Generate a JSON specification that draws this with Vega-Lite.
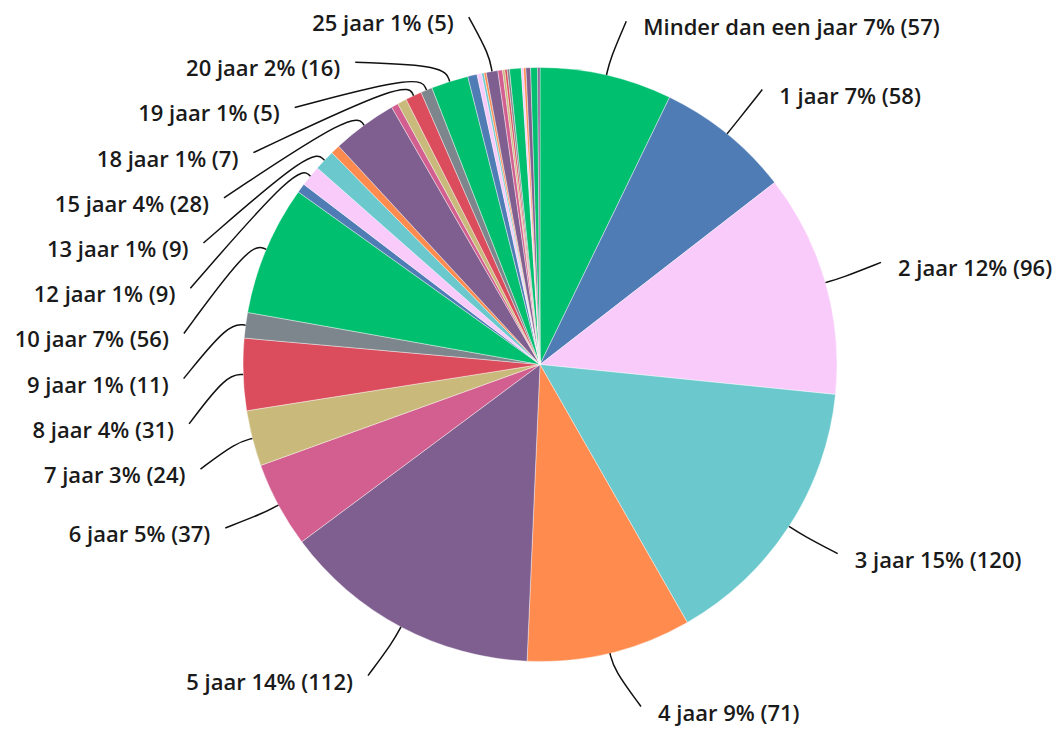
{
  "$schema": "https://vega.github.io/schema/vega-lite/v6.json",
  "width": 1048,
  "height": 729,
  "autosize": "none",
  "padding": {"left": 16, "top": 0, "right": 0, "bottom": 0},
  "background": "white",
  "config": {"view": {"stroke": null}},
  "data": {
    "values": [
      {"cat": "Minder dan een jaar", "jaren": 0, "n": 57, "label": "Minder dan een jaar 7% (57)"},
      {"cat": "1 jaar", "jaren": 1, "n": 58, "label": "1 jaar 7% (58)"},
      {"cat": "2 jaar", "jaren": 2, "n": 96, "label": "2 jaar 12% (96)"},
      {"cat": "3 jaar", "jaren": 3, "n": 120, "label": "3 jaar 15% (120)"},
      {"cat": "4 jaar", "jaren": 4, "n": 71, "label": "4 jaar 9% (71)"},
      {"cat": "5 jaar", "jaren": 5, "n": 112, "label": "5 jaar 14% (112)"},
      {"cat": "6 jaar", "jaren": 6, "n": 37, "label": "6 jaar 5% (37)"},
      {"cat": "7 jaar", "jaren": 7, "n": 24, "label": "7 jaar 3% (24)"},
      {"cat": "8 jaar", "jaren": 8, "n": 31, "label": "8 jaar  4% (31)"},
      {"cat": "9 jaar", "jaren": 9, "n": 11, "label": "9 jaar 1% (11)"},
      {"cat": "10 jaar", "jaren": 10, "n": 56, "label": "10 jaar 7% (56)"},
      {"cat": "11 jaar", "jaren": 11, "n": 4, "label": ""},
      {"cat": "12 jaar", "jaren": 12, "n": 9, "label": "12 jaar 1% (9)"},
      {"cat": "13 jaar", "jaren": 13, "n": 9, "label": "13 jaar 1% (9)"},
      {"cat": "14 jaar", "jaren": 14, "n": 4, "label": ""},
      {"cat": "15 jaar", "jaren": 15, "n": 28, "label": "15 jaar 4% (28)"},
      {"cat": "16 jaar", "jaren": 16, "n": 3, "label": ""},
      {"cat": "17 jaar", "jaren": 17, "n": 4, "label": ""},
      {"cat": "18 jaar", "jaren": 18, "n": 7, "label": "18 jaar 1% (7)"},
      {"cat": "19 jaar", "jaren": 19, "n": 5, "label": "19 jaar 1% (5)"},
      {"cat": "20 jaar", "jaren": 20, "n": 16, "label": "20 jaar 2% (16)"},
      {"cat": "21 jaar", "jaren": 21, "n": 4, "label": ""},
      {"cat": "22 jaar", "jaren": 22, "n": 2, "label": ""},
      {"cat": "23 jaar", "jaren": 23, "n": 1, "label": ""},
      {"cat": "24 jaar", "jaren": 24, "n": 1, "label": ""},
      {"cat": "25 jaar", "jaren": 25, "n": 5, "label": "25 jaar 1% (5)"},
      {"cat": "26 jaar", "jaren": 26, "n": 2, "label": ""},
      {"cat": "27 jaar", "jaren": 27, "n": 1, "label": ""},
      {"cat": "28 jaar", "jaren": 28, "n": 1, "label": ""},
      {"cat": "29 jaar", "jaren": 29, "n": 1, "label": ""},
      {"cat": "30 jaar", "jaren": 30, "n": 5, "label": ""},
      {"cat": "32 jaar", "jaren": 32, "n": 1, "label": ""},
      {"cat": "34 jaar", "jaren": 34, "n": 1, "label": ""},
      {"cat": "35 jaar", "jaren": 35, "n": 2, "label": ""},
      {"cat": "40 jaar", "jaren": 40, "n": 3, "label": ""},
      {"cat": "45 jaar", "jaren": 45, "n": 1, "label": ""}
    ]
  },
  "layer": [
    {
      "mark": {"type": "arc", "outerRadius": 297, "stroke": "#ffffff", "strokeWidth": 0.4},
      "encoding": {
        "theta": {"field": "n", "type": "quantitative", "stack": true},
        "order": {"field": "jaren", "type": "quantitative", "sort": "ascending"},
        "color": {
          "field": "cat",
          "type": "nominal",
          "legend": null,
          "scale": {
            "domain": ["Minder dan een jaar", "1 jaar", "2 jaar", "3 jaar", "4 jaar", "5 jaar", "6 jaar", "7 jaar", "8 jaar", "9 jaar", "10 jaar", "11 jaar", "12 jaar", "13 jaar", "14 jaar", "15 jaar", "16 jaar", "17 jaar", "18 jaar", "19 jaar", "20 jaar", "21 jaar", "22 jaar", "23 jaar", "24 jaar", "25 jaar", "26 jaar", "27 jaar", "28 jaar", "29 jaar", "30 jaar", "32 jaar", "34 jaar", "35 jaar", "40 jaar", "45 jaar"],
            "range": ["#00BF6F", "#507CB6", "#F9CBFA", "#6BC8CD", "#FF8B4F", "#7F5F90", "#D25F90", "#C9B97A", "#DB4D5C", "#7D868C", "#00BF6F", "#507CB6", "#F9CBFA", "#6BC8CD", "#FF8B4F", "#7F5F90", "#D25F90", "#C9B97A", "#DB4D5C", "#7D868C", "#00BF6F", "#507CB6", "#F9CBFA", "#6BC8CD", "#FF8B4F", "#7F5F90", "#D25F90", "#C9B97A", "#DB4D5C", "#7D868C", "#00BF6F", "#F9CBFA", "#FF8B4F", "#7F5F90", "#00BF6F", "#7F5F90"]
          }
        }
      }
    },
    {
      "transform": [
        {"window": [{"op": "sum", "field": "n", "as": "cum"}], "sort": [{"field": "jaren", "order": "ascending"}], "frame": [null, 0]},
        {"joinaggregate": [{"op": "sum", "field": "n", "as": "total"}]},
        {"filter": "datum.label != ''"},
        {"calculate": "2*PI*(datum.cum - datum.n/2)/datum.total", "as": "mid"},
        {"calculate": "sin(datum.mid) < 0 ? 'L' : 'R'", "as": "side"},
        {"calculate": "-cos(datum.mid) * (cos(datum.mid) > 0 ? 345 : 360)", "as": "yn"},
        {"window": [{"op": "row_number", "as": "k"}], "groupby": ["side"], "sort": [{"field": "yn", "order": "ascending"}]},
        {"calculate": "datum.yn - 45.2*(datum.k-1)", "as": "t"},
        {"window": [{"op": "max", "field": "t", "as": "m"}], "groupby": ["side"], "sort": [{"field": "yn", "order": "ascending"}], "frame": [null, 0]},
        {"calculate": "min(349, max(datum.m, -342) + 45.2*(datum.k-1))", "as": "ly"},
        {"calculate": "(datum.side == 'L' ? -1 : 1) * 372 * sqrt(max(0, 1 - pow(datum.ly/(datum.ly < 0 ? 350 : 368), 2)))", "as": "lx"},
        {"calculate": "297*sin(datum.mid)", "as": "x0"},
        {"calculate": "-297*cos(datum.mid)", "as": "y0"},
        {"calculate": "314*sin(datum.mid)", "as": "x1"},
        {"calculate": "-314*cos(datum.mid)", "as": "y1"},
        {"calculate": "datum.lx + (datum.side == 'L' ? 15 : -17)", "as": "x2"},
        {"calculate": "datum.ly - 7", "as": "y2"},
        {"fold": ["x0", "x1", "x2"], "as": ["pt", "px"]},
        {"calculate": "datum.pt == 'x0' ? datum.y0 : (datum.pt == 'x1' ? datum.y1 : datum.y2)", "as": "py"}
      ],
      "mark": {"type": "line", "interpolate": "basis", "color": "#111111", "strokeWidth": 1.5},
      "encoding": {
        "x": {"field": "px", "type": "quantitative", "scale": {"domain": [-524, 524], "nice": false, "zero": false}, "axis": null},
        "y": {"field": "py", "type": "quantitative", "scale": {"domain": [-364.5, 364.5], "nice": false, "zero": false, "reverse": true}, "axis": null},
        "detail": {"field": "cat"},
        "order": {"field": "pt"}
      }
    },
    {
      "transform": [
        {"window": [{"op": "sum", "field": "n", "as": "cum"}], "sort": [{"field": "jaren", "order": "ascending"}], "frame": [null, 0]},
        {"joinaggregate": [{"op": "sum", "field": "n", "as": "total"}]},
        {"filter": "datum.label != ''"},
        {"calculate": "2*PI*(datum.cum - datum.n/2)/datum.total", "as": "mid"},
        {"calculate": "sin(datum.mid) < 0 ? 'L' : 'R'", "as": "side"},
        {"calculate": "-cos(datum.mid) * (cos(datum.mid) > 0 ? 345 : 360)", "as": "yn"},
        {"window": [{"op": "row_number", "as": "k"}], "groupby": ["side"], "sort": [{"field": "yn", "order": "ascending"}]},
        {"calculate": "datum.yn - 45.2*(datum.k-1)", "as": "t"},
        {"window": [{"op": "max", "field": "t", "as": "m"}], "groupby": ["side"], "sort": [{"field": "yn", "order": "ascending"}], "frame": [null, 0]},
        {"calculate": "min(349, max(datum.m, -342) + 45.2*(datum.k-1))", "as": "ly"},
        {"calculate": "(datum.side == 'L' ? -1 : 1) * 372 * sqrt(max(0, 1 - pow(datum.ly/(datum.ly < 0 ? 350 : 368), 2)))", "as": "lx"},
        {"filter": "datum.side == 'L'"}
      ],
      "mark": {"type": "text", "align": "right", "baseline": "middle", "font": "Open Sans", "fontSize": 22, "fontWeight": 600, "color": "#1a1a1a"},
      "encoding": {
        "x": {"field": "lx", "type": "quantitative", "scale": {"domain": [-524, 524], "nice": false, "zero": false}, "axis": null},
        "y": {"field": "ly", "type": "quantitative", "scale": {"domain": [-364.5, 364.5], "nice": false, "zero": false, "reverse": true}, "axis": null},
        "text": {"field": "label"}
      }
    },
    {
      "transform": [
        {"window": [{"op": "sum", "field": "n", "as": "cum"}], "sort": [{"field": "jaren", "order": "ascending"}], "frame": [null, 0]},
        {"joinaggregate": [{"op": "sum", "field": "n", "as": "total"}]},
        {"filter": "datum.label != ''"},
        {"calculate": "2*PI*(datum.cum - datum.n/2)/datum.total", "as": "mid"},
        {"calculate": "sin(datum.mid) < 0 ? 'L' : 'R'", "as": "side"},
        {"calculate": "-cos(datum.mid) * (cos(datum.mid) > 0 ? 345 : 360)", "as": "yn"},
        {"window": [{"op": "row_number", "as": "k"}], "groupby": ["side"], "sort": [{"field": "yn", "order": "ascending"}]},
        {"calculate": "datum.yn - 45.2*(datum.k-1)", "as": "t"},
        {"window": [{"op": "max", "field": "t", "as": "m"}], "groupby": ["side"], "sort": [{"field": "yn", "order": "ascending"}], "frame": [null, 0]},
        {"calculate": "min(349, max(datum.m, -342) + 45.2*(datum.k-1))", "as": "ly"},
        {"calculate": "(datum.side == 'L' ? -1 : 1) * 372 * sqrt(max(0, 1 - pow(datum.ly/(datum.ly < 0 ? 350 : 368), 2)))", "as": "lx"},
        {"filter": "datum.side == 'R'"}
      ],
      "mark": {"type": "text", "align": "left", "baseline": "middle", "font": "Open Sans", "fontSize": 22, "fontWeight": 600, "color": "#1a1a1a"},
      "encoding": {
        "x": {"field": "lx", "type": "quantitative", "scale": {"domain": [-524, 524], "nice": false, "zero": false}, "axis": null},
        "y": {"field": "ly", "type": "quantitative", "scale": {"domain": [-364.5, 364.5], "nice": false, "zero": false, "reverse": true}, "axis": null},
        "text": {"field": "label"}
      }
    }
  ]
}
